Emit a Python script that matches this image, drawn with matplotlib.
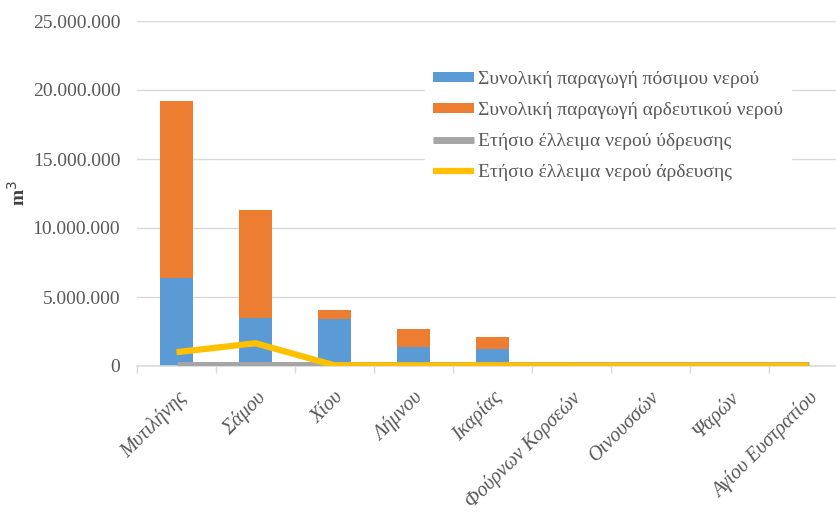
import matplotlib
matplotlib.use("Agg")
import matplotlib.pyplot as plt
from matplotlib.ticker import FuncFormatter, FixedLocator
import numpy as np

categories = ["Μυτιλήνης", "Σάμου", "Χίου", "Λήμνου", "Ικαρίας",
              "Φούρνων Κορσεών", "Οινουσσών", "Ψαρών", "Αγίου Ευστρατίου"]
potable = [6400000, 3500000, 3400000, 1350000, 1250000, 0, 0, 0, 0]
irrigation = [12800000, 7800000, 650000, 1300000, 850000, 0, 0, 0, 0]
deficit_supply = [60000, 60000, 60000, 60000, 60000, 60000, 60000, 60000, 60000]
deficit_irrigation = [1000000, 1650000, 50000, 30000, 40000, 20000, 20000, 20000, 20000]

labels = ["Συνολική παραγωγή πόσιμου νερού",
          "Συνολική παραγωγή αρδευτικού νερού",
          "Ετήσιο έλλειμα νερού ύδρευσης",
          "Ετήσιο έλλειμα νερού άρδευσης"]

plt.rcParams['font.family'] = ['Liberation Serif', 'DejaVu Serif']

fig = plt.figure(figsize=(8.37, 5.17), dpi=100)
ax = fig.add_axes([137 / 837, 1 - 366 / 517, (848 - 137) / 837, 345 / 517])

x = np.arange(len(categories))
w = 0.42
blue = '#5B9BD5'
orange = '#ED7D31'
b1 = ax.bar(x, potable, w, color=blue, label=labels[0], zorder=2)
b2 = ax.bar(x, irrigation, w, bottom=potable, color=orange, label=labels[1], zorder=2)
l1, = ax.plot(x, deficit_supply, color='#A5A5A5', lw=5, label=labels[2], zorder=3,
              solid_capstyle='butt')
l2, = ax.plot(x, deficit_irrigation, color='#FFC000', lw=4.5, label=labels[3], zorder=4,
              solid_capstyle='butt', solid_joinstyle='miter')

ax.set_xlim(-0.5, len(categories) - 0.5)
ax.set_ylim(0, 25000000)
ax.set_yticks(np.arange(0, 25000001, 5000000))
ax.yaxis.set_major_formatter(FuncFormatter(lambda v, p: f"{int(v):,}".replace(",", ".")))
ax.grid(axis='y', color='#D9D9D9', lw=1, zorder=0)
ax.set_axisbelow(True)

for s in ['top', 'right', 'left']:
    ax.spines[s].set_visible(False)
ax.spines['bottom'].set_color('#D9D9D9')
ax.spines['bottom'].set_linewidth(1.2)

ax.tick_params(axis='y', length=0, labelsize=14, labelcolor='#595959', pad=12)
ax.set_xticks(x)
ax.set_xticklabels(categories, rotation=45, ha='right', rotation_mode='anchor',
                   fontsize=14.5, style='italic', color='#595959')
ax.tick_params(axis='x', which='major', length=0, pad=16)
ax.xaxis.set_minor_locator(FixedLocator(np.arange(-0.5, len(categories), 1.0)))
ax.tick_params(axis='x', which='minor', length=5, color='#D9D9D9', width=1)

fig.text(18 / 837, 1 - 193 / 517, "m$^3$", rotation=90, fontsize=14, color='#404040',
         fontweight='bold', ha='center', va='center')

leg = ax.legend(handles=[b1, b2, l1, l2], loc='upper left',
                bbox_to_anchor=(0.392, 0.905), frameon=True, fontsize=14,
                facecolor='white', edgecolor='white', framealpha=1,
                handlelength=2.1, handleheight=0.4, labelspacing=0.72,
                borderpad=0.4, handletextpad=0.2)
for t in leg.get_texts():
    t.set_color('#595959')

fig.savefig("out.png", dpi=100)
